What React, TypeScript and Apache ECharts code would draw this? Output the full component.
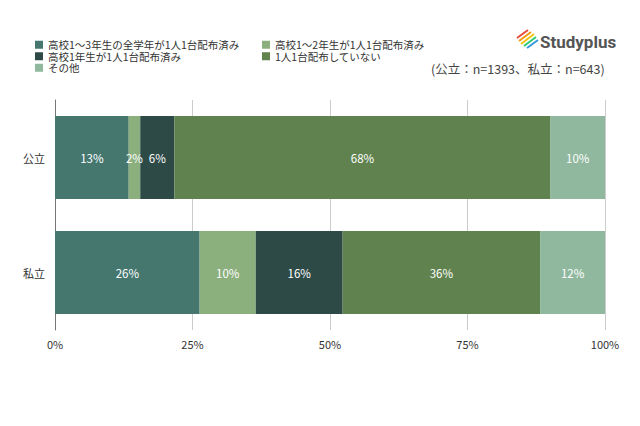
import React, { useEffect, useRef } from "react";
import * as echarts from "echarts";

const categories = ["公立", "私立"];
const seriesNames = [
  "高校1～3年生の全学年が1人1台配布済み",
  "高校1～2年生が1人1台配布済み",
  "高校1年生が1人1台配布済み",
  "1人1台配布していない",
  "その他",
];
const allGrades = [13.4, 26.3];
const grades12 = [2.1, 10.2];
const grade1 = [6.2, 15.8];
const none = [68.4, 35.9];
const other = [9.9, 11.8];
const xTicks = [0, 25, 50, 75, 100];
const colors = ["#45776F", "#8BB07E", "#2D4A47", "#5F824E", "#8FB89E"];

const FONT = "'Noto Sans CJK JP', 'Noto Sans', sans-serif";

export default function App() {
  const ref = useRef<HTMLDivElement>(null);
  useEffect(() => {
    const chart = echarts.init(ref.current!, null, { renderer: "svg" });
    const values = [allGrades, grades12, grade1, none, other];
    const legendText = { fontSize: 10.5, lineHeight: 11.5, color: "#333" };
    chart.setOption({
      animation: false,
      textStyle: { fontFamily: FONT },
      legend: [
        {
          left: 35,
          top: 39,
          padding: 0,
          orient: "vertical",
          itemWidth: 8,
          itemHeight: 8,
          itemGap: 0,
          itemTextGap: 5,
          icon: "rect",
          textStyle: legendText,
          data: [seriesNames[0], seriesNames[2], seriesNames[4]],
        },
        {
          left: 262,
          top: 39,
          padding: 0,
          orient: "vertical",
          itemWidth: 8,
          itemHeight: 8,
          itemGap: 0,
          itemTextGap: 5,
          icon: "rect",
          textStyle: legendText,
          data: [seriesNames[1], seriesNames[3]],
        },
      ],
      graphic: [
        { type: "line", shape: { x1: 517, y1: 38, x2: 528, y2: 30 }, style: { stroke: "#e74c3c", lineWidth: 2 } },
        { type: "line", shape: { x1: 519, y1: 41, x2: 531, y2: 32 }, style: { stroke: "#f39c12", lineWidth: 2 } },
        { type: "line", shape: { x1: 521, y1: 44, x2: 534, y2: 34 }, style: { stroke: "#f1c40f", lineWidth: 2 } },
        { type: "line", shape: { x1: 524, y1: 46, x2: 536, y2: 37 }, style: { stroke: "#2ecc71", lineWidth: 2 } },
        { type: "line", shape: { x1: 527, y1: 48, x2: 538, y2: 40 }, style: { stroke: "#3498db", lineWidth: 2 } },
        {
          type: "text",
          left: 540,
          top: 33,
          style: { text: "Studyplus", fontSize: 17, fontWeight: "bold", fill: "#555", fontFamily: "'Roboto', sans-serif" },
        },
        {
          type: "text",
          left: 431,
          top: 62,
          style: { text: "(公立：n=1393、私立：n=643)", fontSize: 12.5, fill: "#444", fontFamily: FONT },
        },
      ],
      grid: { left: 55, right: 35, top: 100, bottom: 96 },
      xAxis: {
        type: "value",
        min: 0,
        max: 100,
        interval: 25,
        axisLine: { show: false },
        axisTick: { show: false },
        splitLine: { show: true, lineStyle: { color: "#ccc" } },
        axisLabel: {
          formatter: (v: number) => (xTicks.includes(v) ? v + "%" : ""),
          color: "#333",
          fontSize: 11,
          margin: 8,
        },
      },
      yAxis: {
        type: "category",
        data: categories,
        inverse: true,
        axisLine: { show: true, lineStyle: { color: "#777" } },
        axisTick: { show: false },
        axisLabel: { color: "#333", fontSize: 11, margin: 10 },
      },
      series: seriesNames.map((name, i) => ({
        name,
        type: "bar",
        stack: "total",
        barWidth: "72%",
        itemStyle: { color: colors[i] },
        label: {
          show: true,
          position: "inside",
          color: "#fff",
          fontSize: 11.5,
          formatter: (p: any) => Math.round(p.value) + "%",
        },
        data: values[i],
      })),
    });
    return () => chart.dispose();
  }, []);
  return <div ref={ref} style={{ width: 640, height: 426, margin: -8 }} />;
}
